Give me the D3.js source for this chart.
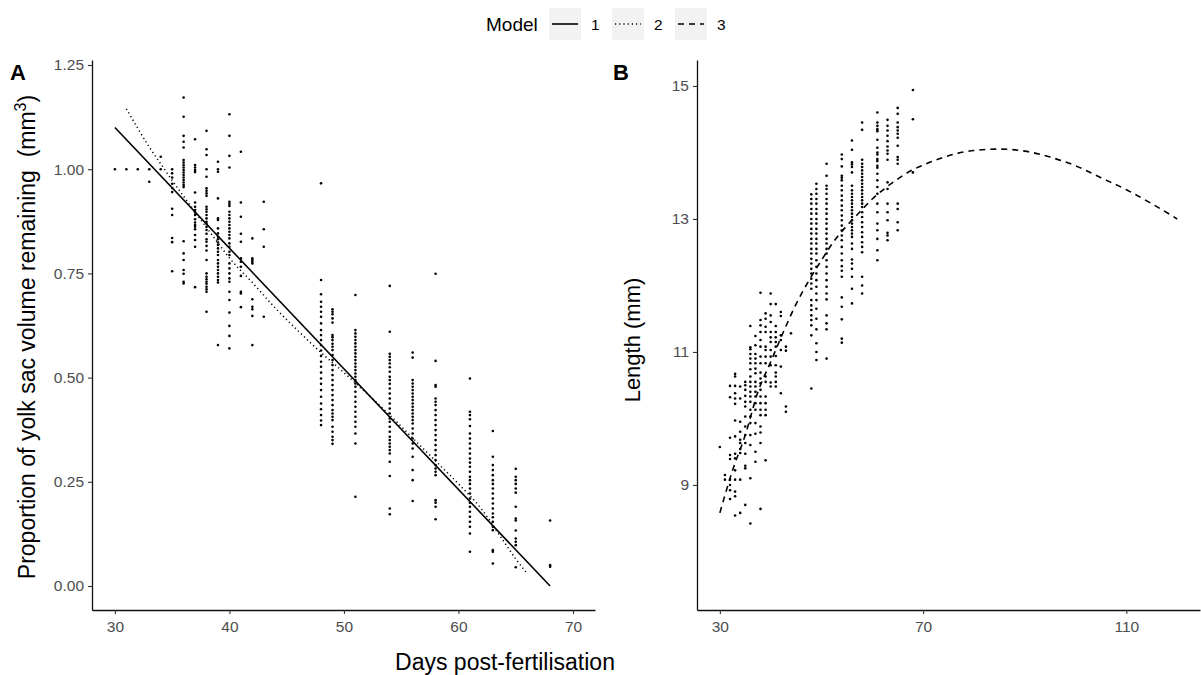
<!DOCTYPE html>
<html><head><meta charset="utf-8">
<script src="https://cdn.jsdelivr.net/npm/d3@7"></script>
<style>body{margin:0;background:#fff;} svg{display:block;font-family:"Liberation Sans",Arial,sans-serif;}</style>
</head><body><svg id="c" width="1201" height="675"></svg>
<script>
// ---------- data: panel A (yolk sac proportion) ----------
const yolkDays = [30,31,32,33,34,35,36,37,38,39,40,41,42,43,48,49,51,54,56,58,61,63,65,68];
const yolkValues = [
 [1.00],
 [1.00],
 [1.00],
 [1.00,0.97],
 [1.03,1.00],
 [1.00,0.99,0.98,0.965,0.955,0.945,0.905,0.89,0.835,0.825,0.755],
 [1.172,1.126,1.08,1.066,1.052,1.022,1.016,1.01,1.004,0.998,0.992,0.986,0.98,0.974,0.968,0.962,0.957,0.827,0.798,0.782,0.758,0.749,0.73,0.726],
 [1.072,1.01,1.004,0.998,0.993,0.944,0.92,0.91,0.902,0.896,0.89,0.88,0.872,0.866,0.862,0.856,0.842,0.83,0.814,0.717],
 [1.092,1.048,1.034,1.0,0.982,0.954,0.948,0.942,0.936,0.91,0.904,0.898,0.89,0.882,0.874,0.869,0.862,0.854,0.845,0.832,0.826,0.816,0.805,0.782,0.75,0.742,0.736,0.73,0.725,0.718,0.712,0.706,0.658],
 [1.018,1.0,0.994,0.93,0.882,0.878,0.858,0.846,0.838,0.832,0.824,0.818,0.81,0.802,0.794,0.782,0.774,0.766,0.758,0.75,0.742,0.734,0.728,0.578],
 [1.132,1.08,1.032,1.004,0.922,0.917,0.912,0.898,0.89,0.882,0.874,0.866,0.858,0.85,0.842,0.834,0.822,0.814,0.802,0.794,0.774,0.762,0.75,0.738,0.73,0.706,0.686,0.656,0.624,0.6,0.57],
 [1.042,0.92,0.886,0.845,0.826,0.786,0.778,0.766,0.744,0.706,0.702,0.669],
 [0.834,0.786,0.782,0.778,0.774,0.688,0.67,0.664,0.648,0.578],
 [0.922,0.856,0.814,0.646],
 [0.966,0.734,0.70,0.682,0.67,0.658,0.646,0.63,0.614,0.602,0.59,0.578,0.565,0.552,0.538,0.526,0.512,0.498,0.485,0.47,0.454,0.438,0.424,0.41,0.397,0.386],
 [0.664,0.658,0.652,0.642,0.632,0.602,0.597,0.59,0.581,0.574,0.566,0.554,0.542,0.53,0.518,0.506,0.494,0.482,0.47,0.458,0.446,0.434,0.422,0.414,0.406,0.398,0.382,0.37,0.358,0.35,0.341],
 [0.698,0.614,0.606,0.598,0.59,0.582,0.574,0.566,0.558,0.55,0.542,0.534,0.526,0.518,0.51,0.502,0.494,0.486,0.478,0.466,0.454,0.442,0.43,0.418,0.406,0.394,0.382,0.366,0.342,0.214],
 [0.72,0.61,0.557,0.55,0.542,0.534,0.525,0.514,0.502,0.494,0.485,0.474,0.462,0.45,0.438,0.426,0.414,0.402,0.394,0.382,0.37,0.358,0.35,0.342,0.334,0.326,0.318,0.298,0.264,0.186,0.172],
 [0.56,0.548,0.494,0.486,0.478,0.47,0.462,0.454,0.446,0.438,0.43,0.422,0.414,0.406,0.398,0.39,0.378,0.366,0.354,0.342,0.33,0.31,0.278,0.254,0.204],
 [0.749,0.54,0.482,0.478,0.45,0.442,0.434,0.422,0.41,0.398,0.386,0.374,0.362,0.35,0.338,0.326,0.314,0.302,0.29,0.282,0.274,0.266,0.206,0.2,0.19,0.16],
 [0.498,0.418,0.41,0.4,0.384,0.366,0.354,0.342,0.33,0.318,0.306,0.296,0.286,0.274,0.262,0.254,0.245,0.234,0.222,0.21,0.2,0.19,0.178,0.166,0.154,0.142,0.126,0.082],
 [0.372,0.31,0.29,0.278,0.266,0.254,0.245,0.234,0.222,0.21,0.198,0.186,0.174,0.165,0.154,0.142,0.134,0.086,0.082,0.054],
 [0.281,0.262,0.254,0.245,0.234,0.224,0.19,0.162,0.157,0.133,0.114,0.106,0.098,0.045],
 [0.157,0.05,0.046]
];
// ---------- data: panel B (length) ----------
const lengthDays = [30,31,32,33,34,35,36,37,38,39,40,41,42,43,44,48,49,51,54,56,58,61,63,65,68];
const lengthValues = [
 [9.57],
 [9.15,9.08],
 [10.49,10.32,9.71,9.45,9.39,9.08,9.0,8.92,8.79],
 [10.67,10.63,10.49,10.38,10.3,10.22,9.97,9.73,9.47,9.4,9.22,9.08,8.9,8.83,8.54],
 [10.48,10.3,9.95,9.8,9.68,9.63,9.54,9.48,9.08,8.58],
 [10.55,10.5,10.43,10.34,10.25,10.18,10.03,9.88,9.75,9.63,9.47,9.29,9.25,8.7],
 [11.39,11.07,11.04,10.97,10.9,10.83,10.74,10.63,10.55,10.48,10.4,10.33,10.25,10.13,10.03,9.93,9.75,9.6,9.1,8.42],
 [11.24,11.1,10.97,10.9,10.83,10.75,10.68,10.55,10.48,10.4,10.33,10.23,10.13,9.93,9.77,9.5,9.35],
 [11.89,11.48,11.4,11.3,11.18,11.08,10.93,10.83,10.69,10.6,10.53,10.43,10.33,10.23,10.13,10.05,9.88,9.79,9.63,8.64],
 [11.58,11.5,11.38,11.3,11.08,11.03,10.93,10.83,10.63,10.55,10.33,10.23,10.13,10.05,9.37],
 [11.88,11.72,11.55,11.45,11.3,11.22,11.15,11.03,10.93,10.8,10.54,10.48],
 [11.72,11.39,11.3,11.22,11.15,11.08,10.94,10.8,10.69,10.63,10.55,10.48],
 [11.6,11.54,11.25,11.18,11.03,10.78,10.38],
 [11.08,11.02,10.18,10.1],
 [11.28],
 [13.37,13.3,13.23,13.15,13.08,13.0,12.93,12.85,12.78,12.7,12.63,12.55,12.48,12.4,12.33,12.25,12.18,12.1,12.03,11.95,11.78,11.7,11.63,11.55,11.48,11.4,11.25,10.45],
 [13.53,13.45,13.38,13.3,13.23,13.15,13.08,13.0,12.93,12.85,12.78,12.7,12.63,12.55,12.48,12.38,12.28,12.18,12.08,11.98,11.88,11.78,11.65,11.5,11.34,11.13,11.0,10.88],
 [13.83,13.65,13.5,13.45,13.38,13.3,13.23,13.15,13.08,13.0,12.93,12.85,12.78,12.7,12.63,12.55,12.48,12.38,12.28,12.18,12.08,11.98,11.88,11.79,11.55,11.43,11.34,10.9],
 [13.97,13.9,13.79,13.65,13.62,13.58,13.5,13.43,13.35,13.28,13.2,13.13,13.05,12.98,12.9,12.83,12.75,12.68,12.58,12.48,12.38,12.29,12.22,12.13,11.82,11.68,11.49,11.2,11.14],
 [14.18,14.04,13.85,13.82,13.78,13.7,13.5,13.43,13.38,13.33,13.28,13.23,13.18,13.13,13.08,13.03,12.98,12.93,12.88,12.83,12.78,12.73,12.63,12.55,12.39,12.33,12.25,12.13,11.95,11.73],
 [14.45,14.34,13.89,13.83,13.78,13.73,13.68,13.63,13.58,13.53,13.48,13.43,13.38,13.33,13.28,13.23,13.18,13.1,13.03,12.95,12.88,12.8,12.73,12.65,12.58,12.5,12.13,12.0,11.88],
 [14.6,14.45,14.4,14.35,14.32,14.19,14.07,14.0,13.97,13.9,13.87,13.8,13.77,13.68,13.58,13.48,13.38,13.23,13.1,12.93,12.83,12.7,12.53,12.38],
 [14.49,14.4,14.33,14.25,14.17,14.09,14.03,13.98,13.89,13.55,13.45,13.23,13.1,12.98,12.79,12.75,12.68],
 [14.67,14.58,14.45,14.38,14.33,14.28,14.22,14.1,13.93,13.89,13.83,13.23,13.15,12.95,12.83],
 [14.94,14.5,13.7]
];
// ---------- model curves ----------
const model1Days = [30, 68];
const model1Yolk = [1.10, 0.0];
const model2Days = [31,32,33,34,35,36,37,38,39,40,42,44,46,48,50,52,54,56,58,60,62,64,65,66];
const model2Yolk = [1.145,1.098,1.053,1.013,0.973,0.935,0.897,0.86,0.823,0.787,0.728,0.667,0.612,0.56,0.512,0.462,0.41,0.355,0.30,0.245,0.185,0.105,0.065,0.03];
const model3Days = [30,32.5,35,37.5,40,42.5,45,47.5,50,52.5,55,57.5,60,62.5,65,67.5,70,75,80,85,90,95,100,105,110,115,120];
const model3Length = [8.58,9.22,9.75,10.4,10.85,11.3,11.72,12.07,12.38,12.67,12.9,13.1,13.3,13.46,13.6,13.72,13.81,13.95,14.03,14.05,14.02,13.93,13.8,13.62,13.44,13.23,13.0];
// ---------- ticks / labels ----------
const yolkTicksX = [30,40,50,60,70];
const yolkTicksY = [0,0.25,0.5,0.75,1,1.25];
const lengthTicksX = [30,70,110];
const lengthTicksY = [9,11,13,15];
const legendLabels = ["1","2","3"];
const legendDash = [null, "1.2,3", "6,5"];

const svg = d3.select("#c");
const TOP = 60, BOT = 610;

const xA = d3.scaleLinear().domain([28.0, 71.92]).range([92, 595]);
const yA = d3.scaleLinear().domain([-0.0576, 1.262]).range([BOT, TOP]);
const xB = d3.scaleLinear().domain([25.5, 124.5]).range([697, 1200]);
const yB = d3.scaleLinear().domain([7.12, 15.39]).range([BOT, TOP]);

function drawAxes(x, y, tx, ty, fmt) {
  const gx = svg.append("g").attr("transform", `translate(0,${BOT})`)
    .call(d3.axisBottom(x).tickValues(tx).tickSize(4).tickPadding(7).tickSizeOuter(0));
  const gy = svg.append("g").attr("transform", `translate(${x.range()[0]},0)`)
    .call(d3.axisLeft(y).tickValues(ty).tickSize(4).tickPadding(4).tickSizeOuter(0).tickFormat(fmt));
  [gx, gy].forEach(g => {
    g.select(".domain").attr("stroke", "#111").attr("stroke-width", 1.3);
    g.selectAll(".tick line").attr("stroke", "#333").attr("stroke-width", 1.1);
    g.selectAll(".tick text").attr("fill", "#4d4d4d").style("font-size", "15.5px").style("font-family", '"Liberation Sans",Arial,sans-serif');
  });
}
drawAxes(xA, yA, yolkTicksX, yolkTicksY, d3.format(".2f"));
drawAxes(xB, yB, lengthTicksX, lengthTicksY, d3.format("d"));

// points
const ptsA = yolkDays.flatMap((d, i) => yolkValues[i].map(v => [d, v]));
svg.append("g").selectAll("circle").data(ptsA).join("circle")
  .attr("cx", d => xA(d[0])).attr("cy", d => yA(d[1])).attr("r", 1.3).attr("fill", "#000");
const ptsB = lengthDays.flatMap((d, i) => lengthValues[i].map(v => [d, v]));
svg.append("g").selectAll("circle").data(ptsB).join("circle")
  .attr("cx", d => xB(d[0])).attr("cy", d => yB(d[1])).attr("r", 1.3).attr("fill", "#000");

// lines
const lineA = d3.line().x(d => xA(d[0])).y(d => yA(d[1]));
const lineB = d3.line().curve(d3.curveMonotoneX).x(d => xB(d[0])).y(d => yB(d[1]));
svg.append("path").attr("d", lineA(model1Days.map((d, i) => [d, model1Yolk[i]])))
  .attr("fill", "none").attr("stroke", "#000").attr("stroke-width", 1.6);
svg.append("path").attr("d", d3.line().curve(d3.curveMonotoneX).x(d => xA(d[0])).y(d => yA(d[1]))(model2Days.map((d, i) => [d, model2Yolk[i]])))
  .attr("fill", "none").attr("stroke", "#000").attr("stroke-width", 1.5).attr("stroke-dasharray", legendDash[1]);
svg.append("path").attr("d", lineB(model3Days.map((d, i) => [d, model3Length[i]])))
  .attr("fill", "none").attr("stroke", "#000").attr("stroke-width", 1.6).attr("stroke-dasharray", legendDash[2]);

// titles
svg.append("text").attr("x", 505).attr("y", 670).attr("text-anchor", "middle")
  .style("font-size", "23px").attr("fill", "#000").text("Days post-fertilisation");
const yt = svg.append("text").attr("transform", "translate(35,337) rotate(-90)").attr("text-anchor", "middle")
  .style("font-size", "23px").attr("fill", "#000");
yt.append("tspan").text("Proportion of yolk sac volume remaining \u00a0(mm");
yt.append("tspan").attr("dy", -9).style("font-size", "16px").text("3");
yt.append("tspan").attr("dy", 9).text(")");
svg.append("text").attr("transform", "translate(640,340) rotate(-90)").attr("text-anchor", "middle")
  .style("font-size", "22px").attr("fill", "#000").text("Length (mm)");
svg.append("text").attr("x", 10).attr("y", 80).style("font-size", "22px").style("font-weight", "bold").text("A");
svg.append("text").attr("x", 613).attr("y", 80).style("font-size", "22px").style("font-weight", "bold").text("B");

// legend
const lg = svg.append("g");
lg.append("text").attr("x", 486).attr("y", 31).style("font-size", "19px").attr("fill", "#000").text("Model");
const keyX = [549, 612, 675];
legendLabels.forEach((lab, i) => {
  lg.append("rect").attr("x", keyX[i]).attr("y", 8).attr("width", 32).attr("height", 32).attr("fill", "#f2f2f2");
  const ln = lg.append("line").attr("x1", keyX[i] + 3).attr("x2", keyX[i] + 29).attr("y1", 24).attr("y2", 24)
    .attr("stroke", "#000").attr("stroke-width", 1.6);
  if (legendDash[i]) ln.attr("stroke-dasharray", legendDash[i]);
  lg.append("text").attr("x", keyX[i] + 42).attr("y", 30).style("font-size", "15.5px").attr("fill", "#000").text(lab);
});
</script></body></html>
